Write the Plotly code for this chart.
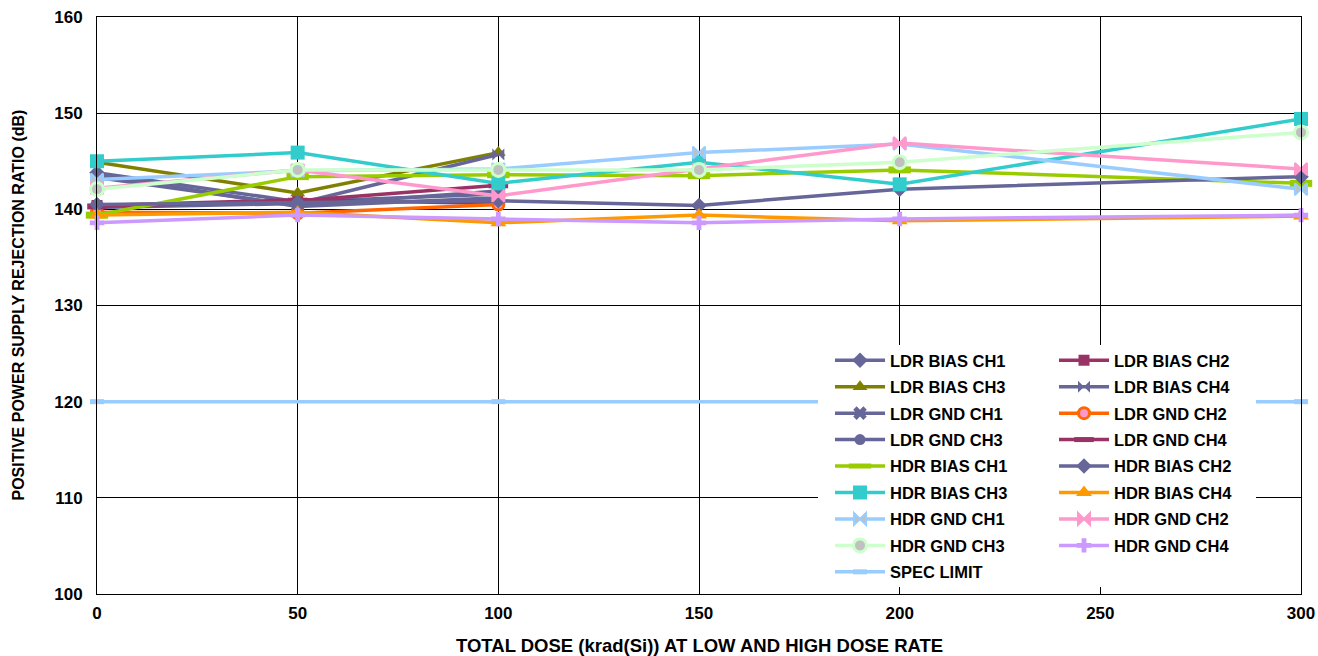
import plotly.graph_objects as go

dose_ldr = [0, 50, 100]
dose_hdr = [0, 50, 100, 150, 200, 300]
spec_x = [0, 100, 200, 300]

ldr_bias_ch1 = [143.8, 140.8, 141.6]
ldr_bias_ch2 = [140.4, 141.0, 140.6]
ldr_bias_ch3 = [144.9, 141.7, 145.9]
ldr_bias_ch4 = [140.2, 140.6, 145.7]
ldr_gnd_ch1 = [143.3, 140.4, 141.9]
ldr_gnd_ch2 = [139.7, 139.6, 140.5]
ldr_gnd_ch3 = [143.6, 140.3, 141.2]
ldr_gnd_ch4 = [140.3, 140.9, 142.5]
hdr_bias_ch1 = [139.4, 143.4, 143.6, 143.5, 144.1, 142.7]
hdr_bias_ch2 = [140.5, 140.7, 140.9, 140.4, 142.1, 143.4]
hdr_bias_ch3 = [145.0, 145.9, 142.7, 144.9, 142.6, 149.4]
hdr_bias_ch4 = [139.4, 139.7, 138.6, 139.4, 138.8, 139.3]
hdr_gnd_ch1 = [143.1, 144.0, 144.2, 145.9, 146.8, 142.1]
hdr_gnd_ch2 = [142.2, 144.1, 141.4, 144.2, 146.9, 144.2]
hdr_gnd_ch3 = [142.1, 144.1, 144.1, 144.1, 144.9, 148.0]
hdr_gnd_ch4 = [138.6, 139.4, 139.0, 138.6, 139.0, 139.4]
spec_limit = [120, 120, 120, 120]

x_ticks = [0, 50, 100, 150, 200, 250, 300]
x_title = "TOTAL DOSE (krad(Si)) AT LOW AND HIGH DOSE RATE"
y_title = "POSITIVE POWER SUPPLY REJECTION RATIO (dB)"

series = [
    ("LDR BIAS CH1", dose_ldr, ldr_bias_ch1, "#666699", dict(symbol="diamond", size=12, color="#666699"), "legend"),
    ("LDR BIAS CH2", dose_ldr, ldr_bias_ch2, "#993366", dict(symbol="square", size=11, color="#993366"), "legend2"),
    ("LDR BIAS CH3", dose_ldr, ldr_bias_ch3, "#808000", dict(symbol="triangle-up", size=13, color="#808000"), "legend"),
    ("LDR BIAS CH4", dose_ldr, ldr_bias_ch4, "#666699", dict(symbol="bowtie", size=12, color="#666699"), "legend2"),
    ("LDR GND CH1", dose_ldr, ldr_gnd_ch1, "#666699", dict(symbol="x", size=12, color="#666699"), "legend"),
    ("LDR GND CH2", dose_ldr, ldr_gnd_ch2, "#FF6600", dict(symbol="circle", size=11, color="#FF99CC", line=dict(color="#FF6600", width=3)), "legend2"),
    ("LDR GND CH3", dose_ldr, ldr_gnd_ch3, "#666699", dict(symbol="circle", size=11, color="#666699"), "legend"),
    ("LDR GND CH4", dose_ldr, ldr_gnd_ch4, "#993366", dict(symbol="line-ew", size=14, line=dict(color="#993366", width=6)), "legend2"),
    ("HDR BIAS CH1", dose_hdr, hdr_bias_ch1, "#99CC00", dict(symbol="line-ew", size=16, line=dict(color="#99CC00", width=7)), "legend"),
    ("HDR BIAS CH2", dose_hdr, hdr_bias_ch2, "#666699", dict(symbol="diamond", size=12, color="#666699"), "legend2"),
    ("HDR BIAS CH3", dose_hdr, hdr_bias_ch3, "#33CCCC", dict(symbol="square", size=14, color="#33CCCC"), "legend"),
    ("HDR BIAS CH4", dose_hdr, hdr_bias_ch4, "#FF9900", dict(symbol="triangle-up", size=14, color="#FF9900"), "legend2"),
    ("HDR GND CH1", dose_hdr, hdr_gnd_ch1, "#99CCFF", dict(symbol="bowtie", size=12, color="#C0C0C0", line=dict(color="#99CCFF", width=2)), "legend"),
    ("HDR GND CH2", dose_hdr, hdr_gnd_ch2, "#FF99CC", dict(symbol="bowtie", size=12, color="#FF99CC", line=dict(color="#FF99CC", width=2)), "legend2"),
    ("HDR GND CH3", dose_hdr, hdr_gnd_ch3, "#CCFFCC", dict(symbol="circle", size=13, color="#C0C0C0", line=dict(color="#CCFFCC", width=3)), "legend"),
    ("HDR GND CH4", dose_hdr, hdr_gnd_ch4, "#CC99FF", dict(symbol="cross", size=12, color="#CC99FF"), "legend2"),
    ("SPEC LIMIT", spec_x, spec_limit, "#99CCFF", dict(symbol="line-ew", size=10, line=dict(color="#99CCFF", width=5)), "legend"),
]

fig = go.Figure()
for name, xs, ys, col, mk, lg in series:
    fig.add_trace(go.Scatter(
        x=xs, y=ys, name=name, mode="lines+markers",
        line=dict(color=col, width=3.5), marker=mk,
        cliponaxis=False, legend=lg, legendgroup=name,
    ))

FONT = "Liberation Sans, Arial, sans-serif"
legend_common = dict(
    font=dict(family=FONT, size=16.5, color="black", weight="bold"),
    bgcolor="rgba(0,0,0,0)", orientation="v", xanchor="left", yanchor="top",
    tracegroupgap=2, itemwidth=50,
)

# plot area at page pixels x 97..1301, y 17..594 (body margin removed below)
L, R, T, B = 97, 17, 17, 62
W, H = 1318, 656
PW, PH = W - L - R, H - T - B

fig.update_layout(
    width=W, height=H,
    margin=dict(l=L, r=R, t=T, b=B),
    paper_bgcolor="white", plot_bgcolor="white",
    font=dict(family=FONT, size=17, color="black", weight="bold"),
    xaxis=dict(
        range=[0, 300], tickvals=x_ticks, automargin=False,
        showgrid=True, gridcolor="black", gridwidth=1,
        showline=True, linecolor="black", linewidth=1, mirror=True,
        ticks="", zeroline=False, ticklabelstandoff=4, ticklabeloverflow="allow",
        tickfont=dict(family=FONT, size=17, weight="bold"),
    ),
    yaxis=dict(
        range=[100, 160], dtick=10, automargin=False,
        showgrid=True, gridcolor="black", gridwidth=1,
        showline=True, linecolor="black", linewidth=1, mirror=True,
        ticks="", zeroline=False, ticklabelstandoff=10, ticklabeloverflow="allow",
        tickfont=dict(family=FONT, size=17, weight="bold"),
    ),
    annotations=[
        dict(text=x_title, xref="paper", yref="paper", x=0.5, y=(594 - 645) / PH,
             xanchor="center", yanchor="middle", showarrow=False,
             font=dict(family=FONT, size=18.5, weight="bold")),
        dict(text=y_title, xref="paper", yref="paper", x=(18 - 97) / PW, y=0.5,
             xanchor="center", yanchor="middle", showarrow=False, textangle=-90,
             font=dict(family=FONT, size=16, weight="bold")),
    ],
    legend=dict(x=(830 - 97) / PW, y=(594 - 343) / PH, **legend_common),
    legend2=dict(x=(1054 - 97) / PW, y=(594 - 343) / PH, **legend_common),
    shapes=[dict(type="rect", xref="paper", yref="paper",
                 x0=(818 - 97) / PW, x1=(1256 - 97) / PW,
                 y0=(594 - 587) / PH, y1=(594 - 345) / PH,
                 fillcolor="white", line=dict(width=0), layer="above")],
    showlegend=True,
)

fig.write_html("out.html",
               config={"displayModeBar": False},
               post_script="document.body.style.margin='0';document.body.style.overflow='hidden';")
